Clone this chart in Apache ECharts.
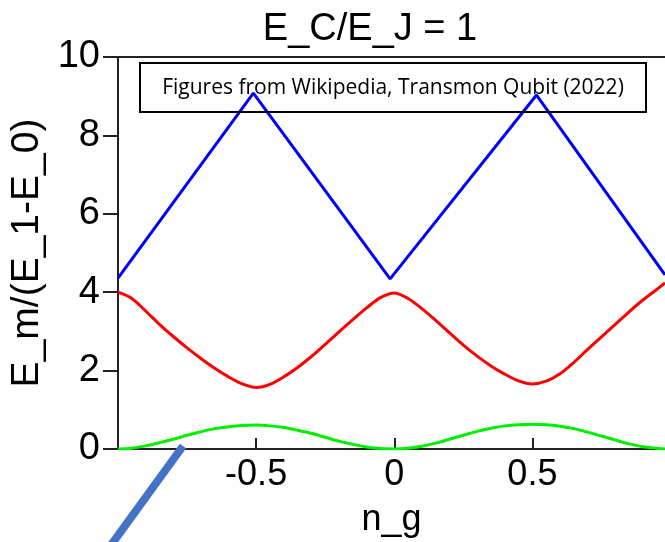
<!DOCTYPE html>
<html>
<head>
<meta charset="utf-8">
<script src="https://cdn.jsdelivr.net/npm/echarts@6/dist/echarts.min.js"></script>
<style>
html,body{margin:0;padding:0;background:#fff;}
#chart{width:665px;height:542px;}
</style>
</head>
<body>
<div id="chart"></div>
<script>
// n_g sample positions for the smooth levels
var ngValues = [-1, -0.95, -0.9, -0.85, -0.8, -0.75, -0.7, -0.65, -0.6, -0.55, -0.5,
  -0.45, -0.4, -0.35, -0.3, -0.25, -0.2, -0.15, -0.1, -0.05, 0,
  0.05, 0.1, 0.15, 0.2, 0.25, 0.3, 0.35, 0.4, 0.45, 0.5,
  0.55, 0.6, 0.65, 0.7, 0.75, 0.8, 0.85, 0.9, 0.95, 0.98];
// E_1 (red)
var level1 = [4.00, 3.84, 3.52, 3.18, 2.87, 2.58, 2.31, 2.06, 1.84, 1.66, 1.57,
  1.65, 1.84, 2.08, 2.36, 2.67, 2.99, 3.30, 3.60, 3.86, 3.98,
  3.84, 3.58, 3.28, 2.96, 2.65, 2.37, 2.12, 1.91, 1.74, 1.66,
  1.73, 1.92, 2.21, 2.54, 2.86, 3.18, 3.50, 3.80, 4.07, 4.24];
// E_0 (green)
var level0 = [0.00, 0.02, 0.08, 0.16, 0.25, 0.35, 0.44, 0.52, 0.57, 0.60, 0.61,
  0.59, 0.55, 0.48, 0.40, 0.30, 0.20, 0.12, 0.05, 0.01, 0.00,
  0.02, 0.07, 0.15, 0.25, 0.35, 0.45, 0.53, 0.59, 0.62, 0.63,
  0.62, 0.58, 0.52, 0.43, 0.33, 0.23, 0.13, 0.06, 0.02, 0.00];
// E_2 (blue): corner positions and values (straight segments between)
var ngBlue = [-1, -0.51, -0.015, 0.515, 0.98];
var level2 = [4.36, 9.08, 4.34, 9.03, 4.44];

var xTicks = [-0.5, 0, 0.5];
var titleText = 'E_C/E_J = 1';
var noteText = 'Figures from Wikipedia, Transmon Qubit (2022)';
var xName = 'n_g';
var yName = 'E_m/(E_1-E_0)';

function pairs(xs, ys){ return xs.map(function(x,i){ return [x, ys[i]]; }); }

var chart = echarts.init(document.getElementById('chart'), null, {renderer:'canvas'});
var axisColor = '#222';
var font = 'Liberation Sans, Arial, sans-serif';
chart.setOption({
  animation:false,
  backgroundColor:'#fff',
  title:{ text:titleText, left:365, top:6, textAlign:'center',
    textStyle:{fontSize:38, fontWeight:'normal', color:'#000', fontFamily:font} },
  grid:{ left:118, right:0, top:57, bottom:93, containLabel:false, outerBoundsMode:'none' },
  xAxis:[{
    type:'value', min:-1, max:0.98, interval:0.5,
    axisLine:{show:true, onZero:false, lineStyle:{color:axisColor, width:2}},
    axisTick:{show:true, inside:true, length:11, lineStyle:{color:axisColor, width:2},
      customValues: xTicks},
    axisLabel:{ fontSize:36, color:'#000', fontFamily:font, margin:8,
      customValues: xTicks,
      formatter:function(v){ return String(v); } },
    splitLine:{show:false},
    name:xName, nameLocation:'middle', nameGap:53,
    nameTextStyle:{fontSize:36, color:'#000', fontFamily:font}
  },{
    type:'value', position:'top', min:-1, max:0.98,
    axisLine:{show:true, onZero:false, lineStyle:{color:axisColor, width:2}},
    axisTick:{show:false}, axisLabel:{show:false}, splitLine:{show:false}
  }],
  yAxis:{
    type:'value', min:0, max:10, interval:2,
    axisLine:{show:true, onZero:false, lineStyle:{color:axisColor, width:2}},
    axisTick:{show:true, inside:false, length:15, lineStyle:{color:axisColor, width:2}},
    axisLabel:{fontSize:38, color:'#000', fontFamily:font, margin:18},
    splitLine:{show:false},
    name:yName, nameLocation:'middle', nameGap:66, nameRotate:90,
    nameTextStyle:{fontSize:39, color:'#000', fontFamily:font}
  },
  series:[
    {type:'line', data:pairs(ngBlue, level2), showSymbol:false, smooth:false, lineStyle:{color:'#0000ff', width:3}, itemStyle:{color:'#0000ff'}, z:3},
    {type:'line', data:pairs(ngValues, level1), showSymbol:false, smooth:0.3, lineStyle:{color:'#ff0000', width:3}, itemStyle:{color:'#ff0000'}, z:3},
    {type:'line', data:pairs(ngValues, level0), showSymbol:false, smooth:0.3, lineStyle:{color:'#00ee00', width:3}, itemStyle:{color:'#00ee00'}, z:3}
  ],
  graphic:[
    { type:'rect', shape:{x:140, y:63, width:506, height:49}, style:{fill:'rgba(255,255,255,0)', stroke:'#000', lineWidth:2}, z:10 },
    { type:'text', x:393, y:88, style:{text:noteText, fontSize:21, fontFamily:'Open Sans, Noto Sans, sans-serif', fill:'#000', textAlign:'center', textVerticalAlign:'middle'}, z:10 },
    { type:'line', shape:{x1:183, y1:446, x2:106, y2:552}, style:{stroke:'#4472C4', lineWidth:8, lineCap:'butt'}, z:10 }
  ]
});
</script>
</body>
</html>
